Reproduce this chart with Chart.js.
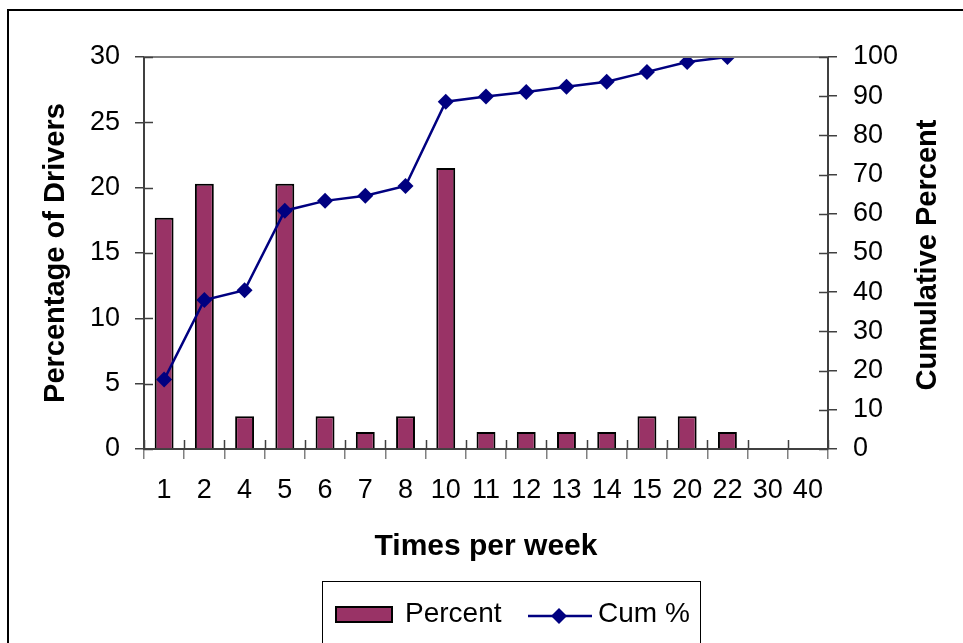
<!DOCTYPE html>
<html>
<head>
<meta charset="utf-8">
<script src="https://cdn.jsdelivr.net/npm/chart.js@4"></script>
<style>
  html, body { margin: 0; padding: 0; background: #fff; overflow: hidden; }
  #chart { display: block; }
</style>
</head>
<body>
<canvas id="chart" width="963" height="643"></canvas>
<script>
// Times per week vs percentage of drivers
const categories = ["1", "2", "4", "5", "6", "7", "8", "10", "11", "12", "13", "14", "15", "20", "22", "30", "40"];
const percentValues = [17.7, 20.3, 2.5, 20.3, 2.5, 1.3, 2.5, 21.5, 1.3, 1.3, 1.3, 1.3, 2.5, 2.5, 1.3, null, null];
const cumValues = [17.7, 38.0, 40.5, 60.8, 63.3, 64.6, 67.1, 88.6, 89.9, 91.1, 92.4, 93.7, 96.2, 98.7, 100, null, null];
const leftTicks = [0, 5, 10, 15, 20, 25, 30];
const rightTicks = [0, 10, 20, 30, 40, 50, 60, 70, 80, 90, 100];

const FONT = "'Liberation Sans', Arial, sans-serif";
const BAR_COLOR = "#993366";
const LINE_COLOR = "#000080";

// frame, plot top edge, inner tick halves, right title and legend
const decorations = {
    id: "decorations",
    beforeDraw(chart) {
        const ctx = chart.ctx;
        ctx.save();
        ctx.fillStyle = "#fff";
        ctx.fillRect(0, 0, chart.width, chart.height);
        ctx.strokeStyle = "#000";
        ctx.lineWidth = 2;
        ctx.strokeRect(8, 10, 1000, 700);
        ctx.restore();
    },
    afterDraw(chart) {
        const ctx = chart.ctx;
        const area = chart.chartArea;
        const x = chart.scales.x;
        const y = chart.scales.y;
        const y1 = chart.scales.y1;
        ctx.save();

        // top edge of plot area
        ctx.strokeStyle = "#808080";
        ctx.lineWidth = 2;
        ctx.beginPath();
        ctx.moveTo(area.left, area.top);
        ctx.lineTo(area.right, area.top);
        ctx.stroke();

        // inner halves of the crossing tick marks
        ctx.strokeStyle = "#404040";
        ctx.lineWidth = 1.5;
        ctx.beginPath();
        leftTicks.forEach((v) => {
            const py = Math.round(y.getPixelForValue(v)) + 0.5;
            ctx.moveTo(area.left, py);
            ctx.lineTo(area.left + 9, py);
        });
        rightTicks.forEach((v) => {
            const py = Math.round(y1.getPixelForValue(v)) + 0.5;
            ctx.moveTo(area.right, py);
            ctx.lineTo(area.right - 9, py);
        });
        const step = (x.right - x.left) / categories.length;
        for (let i = 0; i <= categories.length; i++) {
            const px = Math.round(x.left + i * step) + 0.5;
            ctx.moveTo(px, area.bottom);
            ctx.lineTo(px, area.bottom - 9);
        }
        ctx.stroke();

        // right axis title, reading bottom to top
        ctx.fillStyle = "#000";
        ctx.font = "bold 29px " + FONT;
        ctx.textAlign = "center";
        ctx.textBaseline = "middle";
        ctx.translate(928, (area.top + area.bottom) / 2 + 2);
        ctx.rotate(-Math.PI / 2);
        ctx.fillText("Cumulative Percent", 0, 0);
        ctx.restore();

        // legend box
        ctx.save();
        ctx.strokeStyle = "#000";
        ctx.lineWidth = 1;
        ctx.strokeRect(322.5, 581.5, 378, 80);
        const sets = chart.data.datasets;
        const bars = sets[1];
        const line = sets[0];
        ctx.fillStyle = bars.backgroundColor;
        ctx.fillRect(336, 607, 56, 15);
        ctx.strokeStyle = "#000";
        ctx.lineWidth = 2;
        ctx.strokeRect(336, 607, 56, 15);
        ctx.fillStyle = "#000";
        ctx.font = "28px " + FONT;
        ctx.textBaseline = "middle";
        ctx.textAlign = "left";
        ctx.fillText(bars.label, 405, 614);

        ctx.strokeStyle = line.borderColor;
        ctx.lineWidth = 2.5;
        ctx.beginPath();
        ctx.moveTo(528, 616);
        ctx.lineTo(592, 616);
        ctx.stroke();
        ctx.fillStyle = line.pointBackgroundColor;
        ctx.beginPath();
        ctx.moveTo(559, 608);
        ctx.lineTo(567, 616);
        ctx.lineTo(559, 624);
        ctx.lineTo(551, 616);
        ctx.closePath();
        ctx.fill();
        ctx.fillStyle = "#000";
        ctx.fillText(line.label, 598, 614);
        ctx.restore();
    }
};

const ctx = document.querySelector("#chart").getContext("2d");

new Chart(ctx, {
    type: "bar",
    data: {
        labels: categories,
        datasets: [
            {
                type: "line",
                label: "Cum %",
                data: cumValues,
                yAxisID: "y1",
                borderColor: LINE_COLOR,
                borderWidth: 2.5,
                pointStyle: "rectRot",
                pointRadius: 8,
                pointBackgroundColor: LINE_COLOR,
                pointBorderColor: LINE_COLOR,
                pointBorderWidth: 0,
                tension: 0,
                spanGaps: false,
                order: 0,
            },
            {
                type: "bar",
                label: "Percent",
                data: percentValues,
                yAxisID: "y",
                backgroundColor: BAR_COLOR,
                borderColor: "#000",
                borderWidth: 2,
                categoryPercentage: 1,
                barPercentage: 0.47,
                order: 1,
            },
        ],
    },
    plugins: [decorations],
    options: {
        responsive: false,
        animation: false,
        devicePixelRatio: 1,
        layout: { padding: { top: 57, left: 0, right: 0, bottom: 0 } },
        plugins: {
            legend: { display: false },
            tooltip: { enabled: false },
        },
        scales: {
            x: {
                offset: true,
                grid: {
                    display: true,
                    offset: true,
                    drawOnChartArea: false,
                    tickLength: 10,
                    color: "#808080",
                    lineWidth: 1.5,
                },
                border: { color: "#404040", width: 2 },
                ticks: {
                    color: "#000",
                    font: { family: FONT, size: 27 },
                    padding: 15,
                    maxRotation: 0,
                    autoSkip: false,
                },
                title: {
                    display: true,
                    text: "Times per week",
                    color: "#000",
                    font: { family: FONT, size: 30, weight: "bold" },
                    padding: { top: 0, bottom: 78 },
                },
                afterFit(scale) { scale.height = 194; },
            },
            y: {
                position: "left",
                min: 0,
                max: 30,
                afterBuildTicks(scale) { scale.ticks = leftTicks.map((v) => ({ value: v })); },
                grid: {
                    drawOnChartArea: false,
                    tickLength: 9,
                    color: "#404040",
                    lineWidth: 1.5,
                },
                border: { color: "#404040", width: 2 },
                ticks: {
                    color: "#000",
                    font: { family: FONT, size: 27 },
                    padding: 15,
                },
                title: {
                    display: true,
                    text: "Percentage of Drivers",
                    color: "#000",
                    font: { family: FONT, size: 29, weight: "bold" },
                    padding: { top: 39, bottom: 0 },
                },
                afterFit(scale) { scale.width = 144; },
            },
            y1: {
                position: "right",
                min: 0,
                max: 100,
                afterBuildTicks(scale) { scale.ticks = rightTicks.map((v) => ({ value: v })); },
                grid: {
                    drawOnChartArea: false,
                    tickLength: 9,
                    color: "#404040",
                    lineWidth: 1.5,
                },
                border: { color: "#404040", width: 2 },
                ticks: {
                    color: "#000",
                    font: { family: FONT, size: 27 },
                    padding: 16,
                },
                afterFit(scale) { scale.width = 135; },
            },
        },
    },
});
</script>
</body>
</html>
